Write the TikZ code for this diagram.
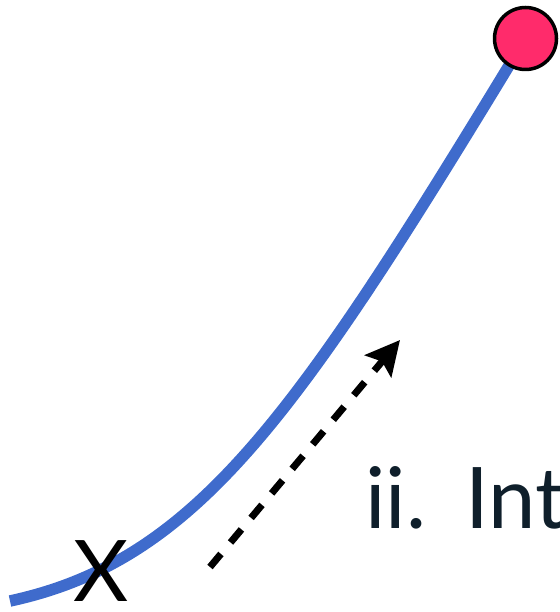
\documentclass[tikz,border=0pt]{standalone}
\usepackage{fontspec}
\setmainfont{Lato}
\usetikzlibrary{arrows.meta,backgrounds}
\definecolor{curveblue}{HTML}{3F6BCC}
\definecolor{dotred}{HTML}{FF2B6B}
\definecolor{textnavy}{HTML}{0F1F2B}
\tikzset{
  pathline/.style={line width=11.5pt, curveblue},
  enddot/.style={circle, draw=black, line width=3.5pt, fill=dotred, minimum size=62pt, inner sep=0pt},
  moveArrow/.style={line width=7pt, dash pattern=on 17pt off 15pt, -{Stealth[length=34pt,width=34pt,inset=6pt]}},
  bigtext/.style={font=\fontsize{85}{90}\selectfont, inner sep=0pt, anchor=base west},
}
\begin{document}
\begin{tikzpicture}[x=1pt,y=-1pt]
\useasboundingbox (0,0) rectangle (559,612);
\node[enddot] (goal) at (525.5,38.5) {};
\coordinate (start) at (10,601);
\begin{scope}[on background layer]
\draw[pathline] (start) .. controls (200,560) and (300,410) .. (goal.center);
\end{scope}
\node[bigtext, textnavy] (lab) at (365,528) {\makebox[100pt][l]{ii.}Int};
\node[bigtext, black, anchor=base] (x) at (101,601) {X};
\coordinate (as) at (210,567);
\coordinate (ae) at (400,340);
\draw[moveArrow] (as) -- (ae);
\end{tikzpicture}
\end{document}
